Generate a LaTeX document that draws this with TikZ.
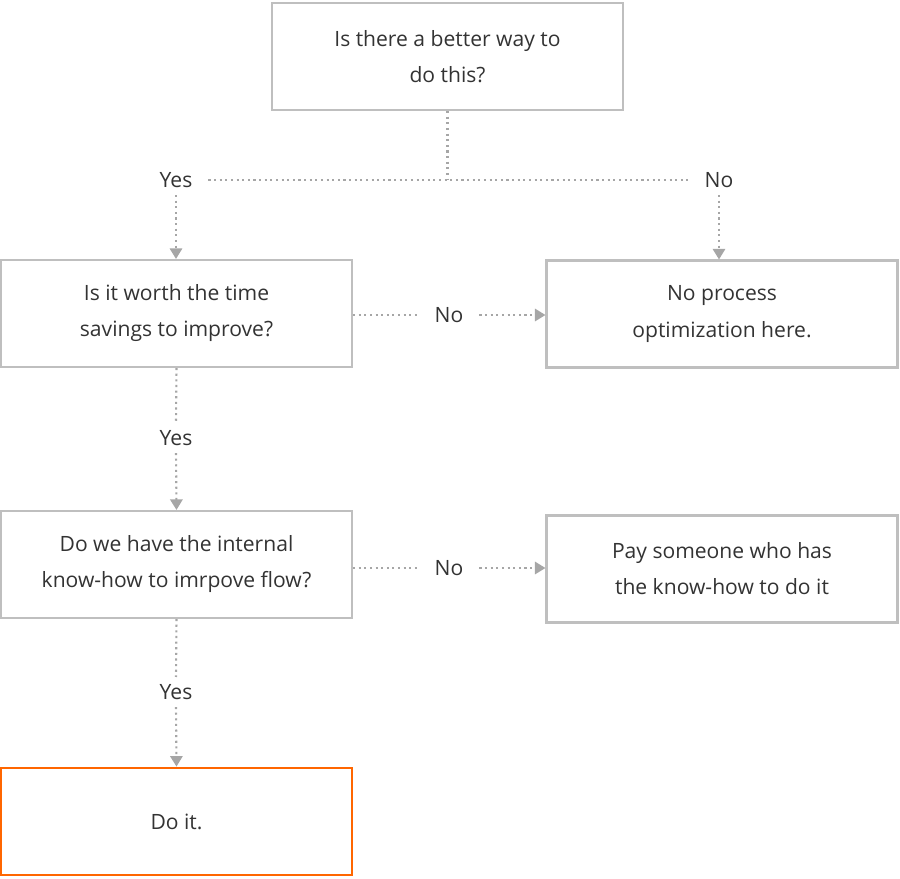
\documentclass[tikz,border=0pt]{standalone}
\usepackage{fontspec}
\setmainfont{Open Sans}
\usetikzlibrary{arrows.meta}

\begin{document}
\begin{tikzpicture}[x = 0.02cm, y = -0.02cm,
    box/.style = {draw = black!25, line width = 1.2pt, minimum width = 7.02cm,
      minimum height = 2.14cm, align = center, text = black!80,
      font = \fontsize{12}{20.5}\selectfont},
    doit/.style = {box, draw = orange!80!red, line width = 1.6pt},
    lab/.style = {text = black!80, inner xsep = 9pt, inner ysep = 4pt,
      font = \fontsize{12}{14}\selectfont},
    dots/.style = {draw = black!35, line width = 1.2pt, dotted},
    tip/.style = {dots, -{Triangle[length = 6pt, width = 7pt]}}
  ]
  \useasboundingbox (0, 0) rectangle (900, 879);

  % boxes
  \node[box] (better) at (447.5, 56.5) {Is there a better way to\\do this?};
  \node[box] (worth) at (176.5, 313.5) {Is it worth the time\\savings to improve?};
  \node[box] (noopt) at (722, 314) {No process\\optimization here.};
  \node[box] (know) at (176.5, 564.5) {Do we have the internal\\know-how to imrpove flow?};
  \node[box] (pay) at (722, 569) {Pay someone who has\\the know-how to do it};
  \node[doit] (do) at (176.5, 821.5) {Do it.};

  % labels
  \node[lab] (yesA) at (176, 180) {Yes};
  \node[lab] (noA) at (719, 180) {No};
  \node[lab] (noB) at (449, 315) {No};
  \node[lab] (yesB) at (176, 438) {Yes};
  \node[lab] (noC) at (449, 568) {No};
  \node[lab] (yesC) at (176, 692) {Yes};
  \coordinate (split) at (447.5, 180);

  % connectors
  \draw[dots] (better.south) -- (split);
  \draw[dots] (yesA.east) -- (noA.west);
  \draw[tip] (yesA.south) -- (worth.north -| yesA);
  \draw[tip] (noA.south) -- (noopt.north -| noA);
  \draw[dots] (worth.east |- noB) -- (noB.west);
  \draw[tip] (noB.east) -- (noopt.west |- noB);
  \draw[dots] (worth.south) -- (yesB.north);
  \draw[tip] (yesB.south) -- (know.north);
  \draw[dots] (know.east |- noC) -- (noC.west);
  \draw[tip] (noC.east) -- (pay.west |- noC);
  \draw[dots] (know.south) -- (yesC.north);
  \draw[tip] (yesC.south) -- (do.north);
\end{tikzpicture}
\end{document}
